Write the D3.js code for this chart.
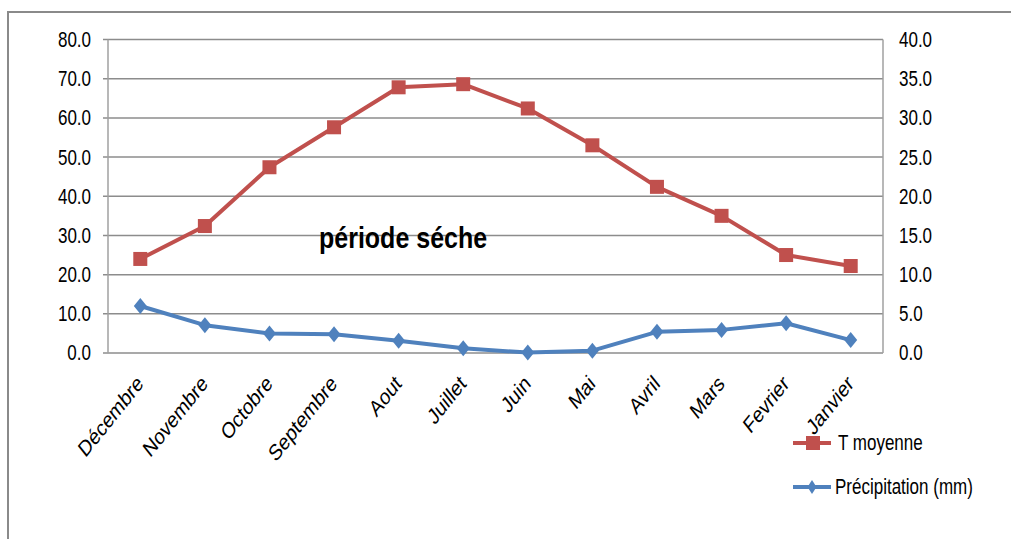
<!DOCTYPE html>
<html lang="fr">
<head>
<meta charset="utf-8">
<title>Diagramme ombrothermique</title>
<script src="https://d3js.org/d3.v7.min.js"></script>
<style>
  body { margin: 0; background: #fff; }
  text { font-family: "Liberation Sans", Arial, sans-serif; fill: #000; }
</style>
</head>
<body>
<script>
// DATA
var mois = ["Décembre","Novembre","Octobre","Septembre","Aout","Juillet","Juin","Mai","Avril","Mars","Fevrier","Janvier"];
var tMoyenne = [12.0, 16.2, 23.7, 28.8, 33.9, 34.3, 31.2, 26.5, 21.2, 17.5, 12.5, 11.1];
var precipitation = [12.0, 7.1, 5.0, 4.8, 3.1, 1.2, 0.1, 0.6, 5.4, 5.9, 7.6, 3.3];
var ticksLeft = [0, 10, 20, 30, 40, 50, 60, 70, 80];
var ticksRight = [0, 5, 10, 15, 20, 25, 30, 35, 40];

// SIZES
var w = 1011, h = 539;
var pLeft = 108, pRight = 883, pTop = 39.5, pBottom = 353;
var red = "#c0504d", blue = "#4f81bd", grid = "#8c8c8c";
var stretch = 1.25;   // the source image text is taller than wide

var svg = d3.select("body").append("svg")
  .attr("width", w)
  .attr("height", h);

// outer frame (top + left edge only visible)
svg.append("path")
  .attr("d", "M8,539 L8,12 L1011,12")
  .attr("fill", "none")
  .attr("stroke", "#8a8a8a")
  .attr("stroke-width", 2);

// SCALES
var x = d3.scaleBand().domain(mois).range([pLeft, pRight]);
var yL = d3.scaleLinear().domain([0, 80]).range([pBottom, pTop]);
var yR = d3.scaleLinear().domain([0, 40]).range([pBottom, pTop]);
function cx(i) { return x(mois[i]) + x.bandwidth() / 2; }

// GRID
svg.selectAll("line.grid")
  .data(ticksLeft)
  .enter()
  .append("line")
  .attr("class", "grid")
  .attr("x1", pLeft - 5)
  .attr("x2", pRight)
  .attr("y1", function(d){ return yL(d); })
  .attr("y2", function(d){ return yL(d); })
  .attr("stroke", grid)
  .attr("stroke-width", 1.5);

svg.append("line")
  .attr("x1", pLeft).attr("x2", pLeft)
  .attr("y1", pTop).attr("y2", pBottom)
  .attr("stroke", "#a0a0a0").attr("stroke-width", 1.5);
svg.append("line")
  .attr("x1", pRight).attr("x2", pRight)
  .attr("y1", pTop).attr("y2", pBottom)
  .attr("stroke", "#a0a0a0").attr("stroke-width", 1.5);

// AXIS LABELS
var fmt = d3.format(".1f");
svg.selectAll("text.yl")
  .data(ticksLeft)
  .enter()
  .append("text")
  .attr("class", "yl")
  .attr("transform", function(d){ return "translate(" + (pLeft - 17) + "," + yL(d) + ") scale(1," + stretch + ")"; })
  .attr("dy", "0.35em")
  .attr("text-anchor", "end")
  .attr("font-size", "17px")
  .text(function(d){ return fmt(d); });

svg.selectAll("text.yr")
  .data(ticksRight)
  .enter()
  .append("text")
  .attr("class", "yr")
  .attr("transform", function(d){ return "translate(" + (pRight + 16) + "," + yR(d) + ") scale(1," + stretch + ")"; })
  .attr("dy", "0.35em")
  .attr("text-anchor", "start")
  .attr("font-size", "17px")
  .text(function(d){ return fmt(d); });

svg.selectAll("text.xl")
  .data(mois)
  .enter()
  .append("text")
  .attr("class", "xl")
  .attr("font-size", "18px")
  .attr("text-anchor", "end")
  .attr("transform", function(d, i){
    return "translate(" + (cx(i) + 4) + "," + (pBottom + 32) + ") scale(1," + stretch + ") rotate(-45)";
  })
  .text(function(d){ return d; });

// LINES
var lineT = d3.line()
  .x(function(d, i){ return cx(i); })
  .y(function(d){ return yR(d); });
var lineP = d3.line()
  .x(function(d, i){ return cx(i); })
  .y(function(d){ return yL(d); });

svg.append("path")
  .datum(tMoyenne)
  .attr("d", lineT)
  .attr("fill", "none")
  .attr("stroke", red)
  .attr("stroke-width", 4)
  .attr("stroke-linejoin", "round");

svg.selectAll("rect.mk")
  .data(tMoyenne)
  .enter()
  .append("rect")
  .attr("class", "mk")
  .attr("x", function(d, i){ return cx(i) - 7; })
  .attr("y", function(d){ return yR(d) - 7; })
  .attr("width", 14)
  .attr("height", 14)
  .attr("fill", red);

svg.append("path")
  .datum(precipitation)
  .attr("d", lineP)
  .attr("fill", "none")
  .attr("stroke", blue)
  .attr("stroke-width", 4)
  .attr("stroke-linejoin", "round");

var diamond = "M0,-8 L6.5,0 L0,8 L-6.5,0 Z";
svg.selectAll("path.mk")
  .data(precipitation)
  .enter()
  .append("path")
  .attr("class", "mk")
  .attr("d", diamond)
  .attr("transform", function(d, i){ return "translate(" + cx(i) + "," + yL(d) + ")"; })
  .attr("fill", blue);

// ANNOTATION
svg.append("text")
  .attr("transform", "translate(319,248) scale(1,1.15)")
  .attr("font-size", "25px")
  .attr("font-weight", "bold")
  .text("période séche");

// LEGEND
var legend = [
  { name: "T  moyenne", color: red, y: 443, mark: "square" },
  { name: "Précipitation (mm)", color: blue, y: 487, mark: "diamond" }
];
var lg = svg.selectAll("g.lg")
  .data(legend)
  .enter()
  .append("g")
  .attr("class", "lg");
lg.append("line")
  .attr("x1", 793).attr("x2", 831)
  .attr("y1", function(d){ return d.y; })
  .attr("y2", function(d){ return d.y; })
  .attr("stroke", function(d){ return d.color; })
  .attr("stroke-width", 4);
lg.filter(function(d){ return d.mark === "square"; })
  .append("rect")
  .attr("x", 806).attr("y", function(d){ return d.y - 7; })
  .attr("width", 14).attr("height", 14)
  .attr("fill", function(d){ return d.color; });
lg.filter(function(d){ return d.mark === "diamond"; })
  .append("path")
  .attr("d", "M0,-7 L4.5,0 L0,7 L-4.5,0 Z")
  .attr("transform", function(d){ return "translate(812," + d.y + ")"; })
  .attr("fill", function(d){ return d.color; });
lg.append("text")
  .attr("transform", function(d){ return "translate(" + (d.mark === "square" ? 838 : 835) + "," + d.y + ") scale(1," + stretch + ")"; })
  .attr("dy", "0.35em")
  .attr("font-size", "17px")
  .text(function(d){ return d.name; });
</script>
</body>
</html>
